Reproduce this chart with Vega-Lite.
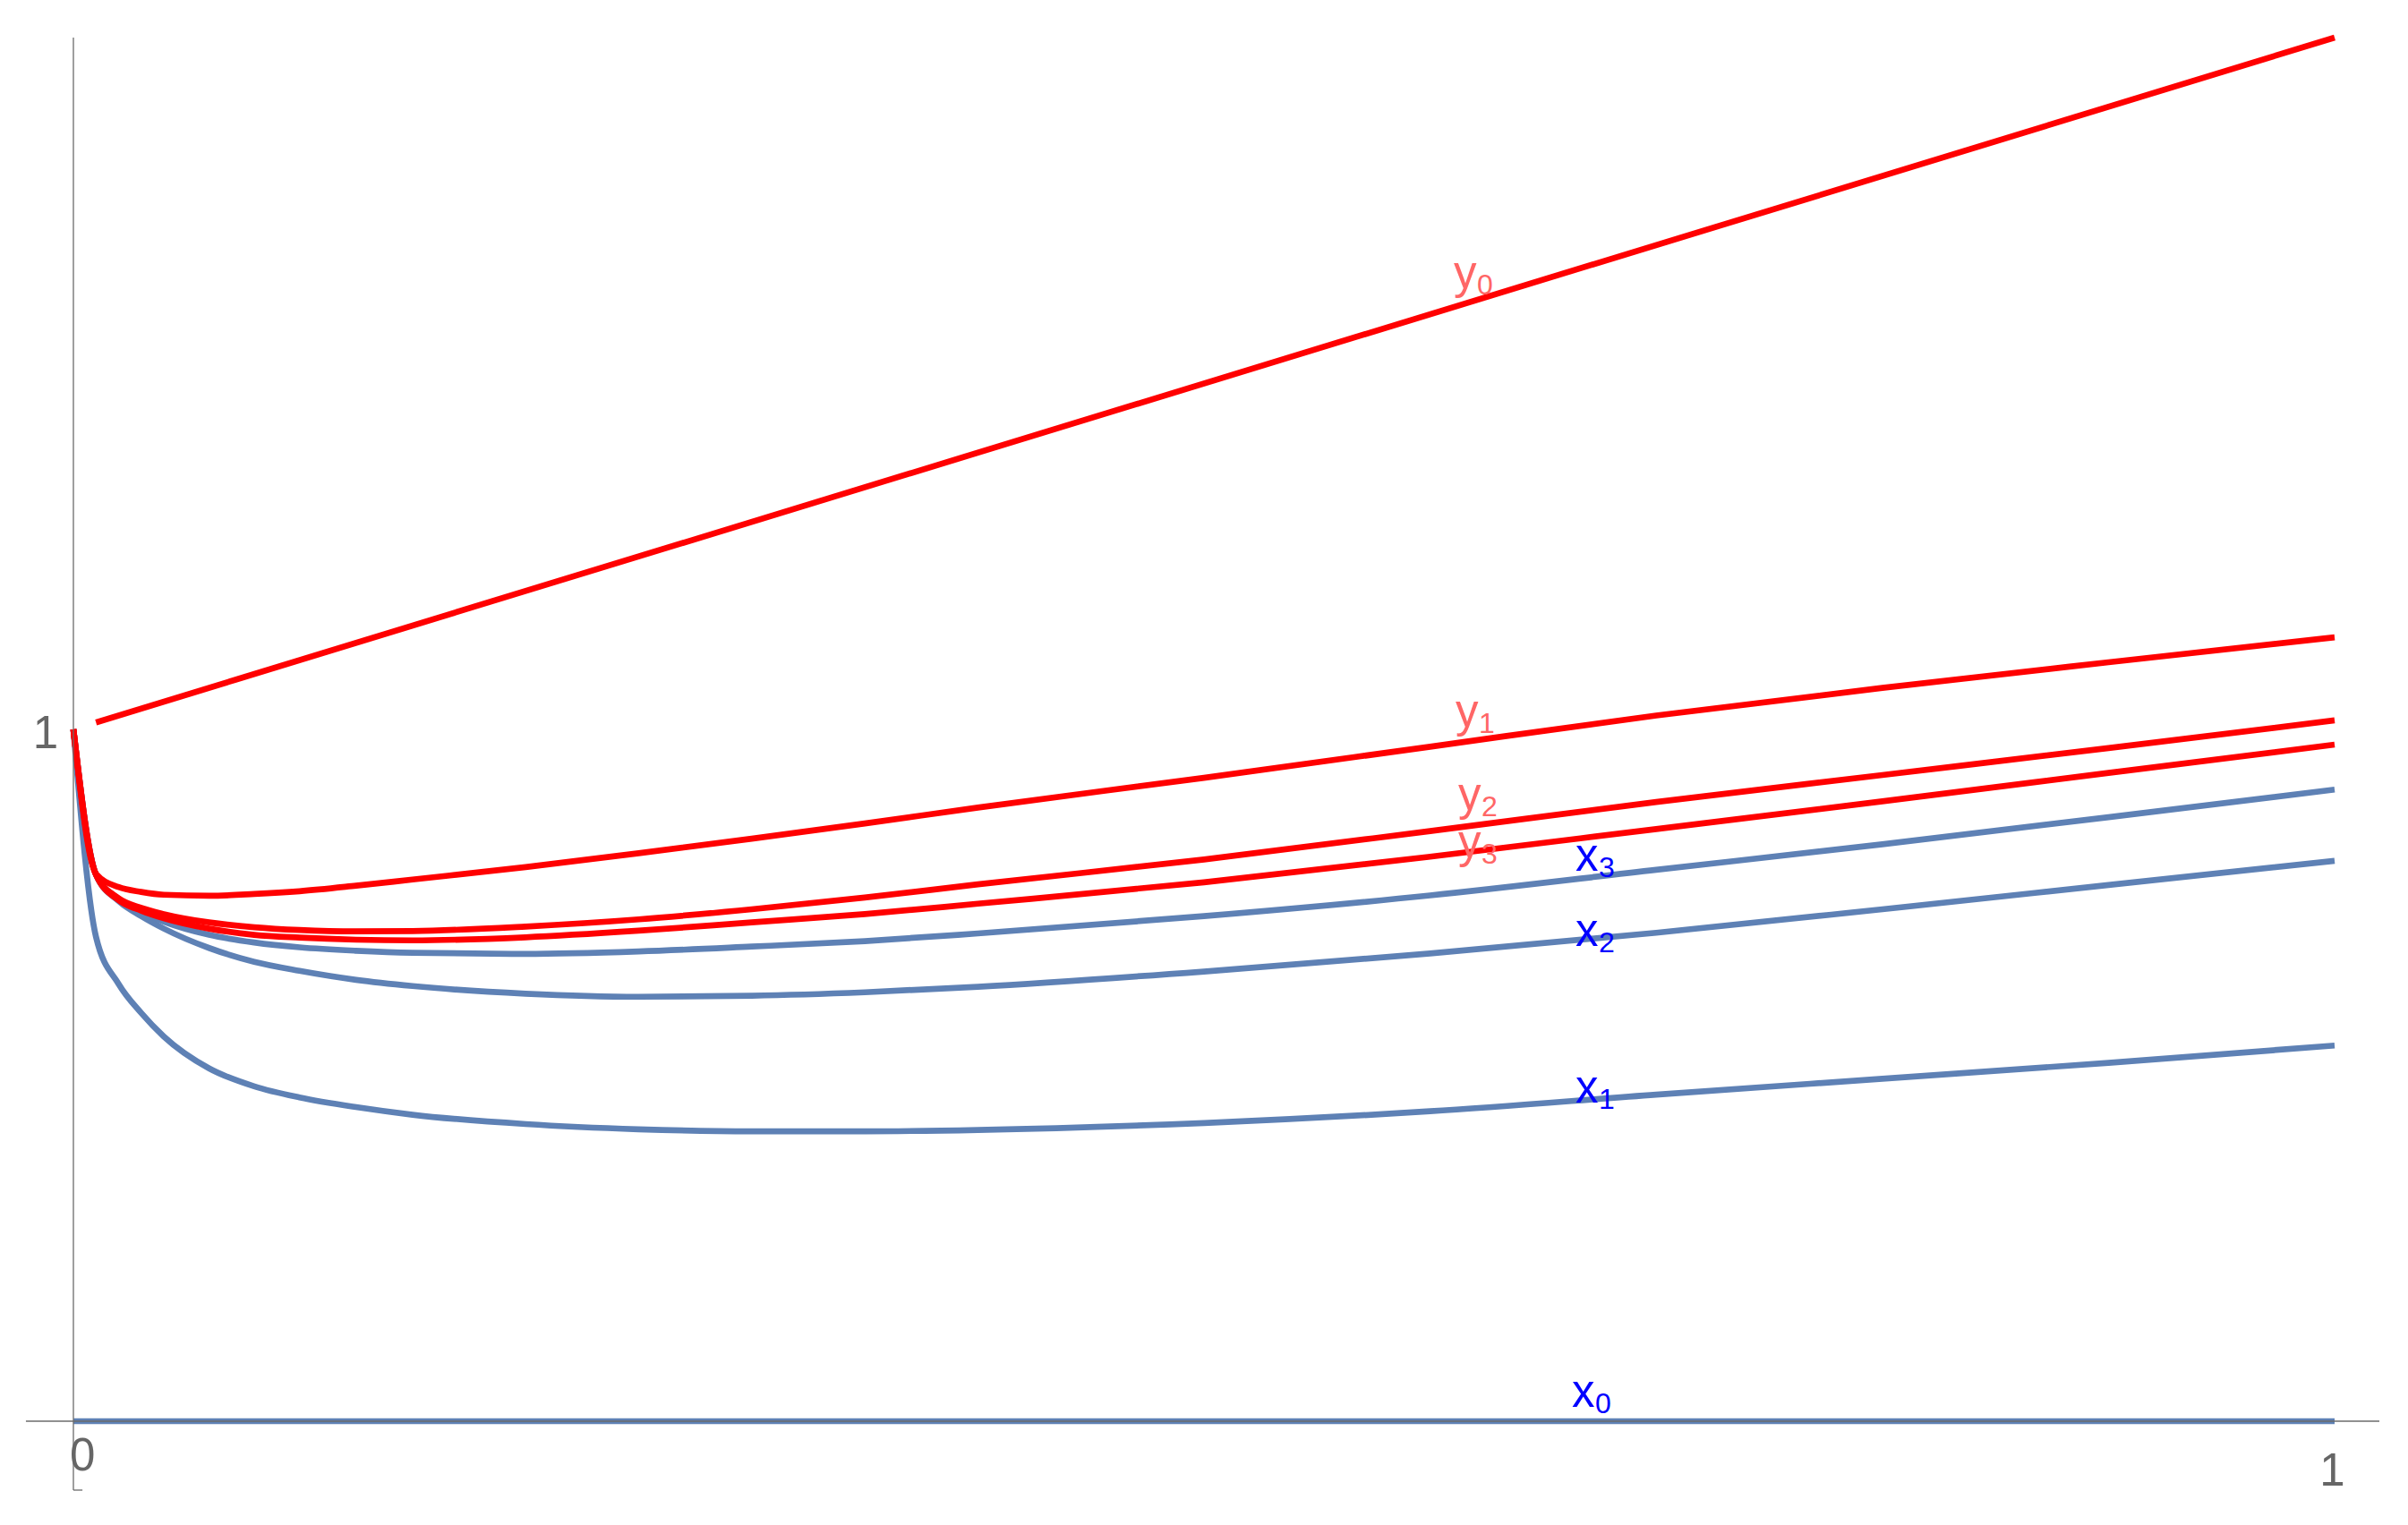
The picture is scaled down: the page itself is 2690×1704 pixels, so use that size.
{
  "$schema": "https://vega.github.io/schema/vega-lite/v6.json",
  "width": 2690,
  "height": 1704,
  "autosize": {"type": "none"},
  "padding": 0,
  "background": "white",
  "config": {"view": {"stroke": null}},
  "datasets": {
    "curves": [
      {"s":"x0","g":"x","x":0,"y":0},{"s":"x0","g":"x","x":1,"y":0},
      {"s":"x1","g":"x","x":0,"y":1},{"s":"x1","g":"x","x":0.01,"y":0.70},{"s":"x1","g":"x","x":0.02,"y":0.632},{"s":"x1","g":"x","x":0.03,"y":0.59},{"s":"x1","g":"x","x":0.04,"y":0.556},{"s":"x1","g":"x","x":0.06,"y":0.51},{"s":"x1","g":"x","x":0.08,"y":0.484},{"s":"x1","g":"x","x":0.1,"y":0.468},{"s":"x1","g":"x","x":0.125,"y":0.454},{"s":"x1","g":"x","x":0.15,"y":0.443},{"s":"x1","g":"x","x":0.2,"y":0.4295},{"s":"x1","g":"x","x":0.25,"y":0.422},{"s":"x1","g":"x","x":0.3,"y":0.419},{"s":"x1","g":"x","x":0.35,"y":0.419},{"s":"x1","g":"x","x":0.4,"y":0.421},{"s":"x1","g":"x","x":0.5,"y":0.431},{"s":"x1","g":"x","x":0.6,"y":0.448},{"s":"x1","g":"x","x":0.7,"y":0.472},{"s":"x1","g":"x","x":0.8,"y":0.495},{"s":"x1","g":"x","x":0.9,"y":0.518},{"s":"x1","g":"x","x":1,"y":0.543},
      {"s":"x2","g":"x","x":0,"y":1},{"s":"x2","g":"x","x":0.01,"y":0.79},{"s":"x2","g":"x","x":0.02,"y":0.752},{"s":"x2","g":"x","x":0.03,"y":0.73},{"s":"x2","g":"x","x":0.04,"y":0.712},{"s":"x2","g":"x","x":0.06,"y":0.684},{"s":"x2","g":"x","x":0.08,"y":0.664},{"s":"x2","g":"x","x":0.1,"y":0.651},{"s":"x2","g":"x","x":0.125,"y":0.638},{"s":"x2","g":"x","x":0.15,"y":0.629},{"s":"x2","g":"x","x":0.2,"y":0.618},{"s":"x2","g":"x","x":0.25,"y":0.6135},{"s":"x2","g":"x","x":0.3,"y":0.615},{"s":"x2","g":"x","x":0.35,"y":0.62},{"s":"x2","g":"x","x":0.4,"y":0.628},{"s":"x2","g":"x","x":0.5,"y":0.65},{"s":"x2","g":"x","x":0.6,"y":0.676},{"s":"x2","g":"x","x":0.7,"y":0.706},{"s":"x2","g":"x","x":0.8,"y":0.74},{"s":"x2","g":"x","x":0.9,"y":0.775},{"s":"x2","g":"x","x":1,"y":0.81},
      {"s":"x3","g":"x","x":0,"y":1},{"s":"x3","g":"x","x":0.01,"y":0.79},{"s":"x3","g":"x","x":0.02,"y":0.755},{"s":"x3","g":"x","x":0.03,"y":0.736},{"s":"x3","g":"x","x":0.04,"y":0.722},{"s":"x3","g":"x","x":0.06,"y":0.703},{"s":"x3","g":"x","x":0.08,"y":0.692},{"s":"x3","g":"x","x":0.1,"y":0.685},{"s":"x3","g":"x","x":0.125,"y":0.68},{"s":"x3","g":"x","x":0.15,"y":0.677},{"s":"x3","g":"x","x":0.2,"y":0.6755},{"s":"x3","g":"x","x":0.25,"y":0.679},{"s":"x3","g":"x","x":0.3,"y":0.686},{"s":"x3","g":"x","x":0.35,"y":0.694},{"s":"x3","g":"x","x":0.4,"y":0.705},{"s":"x3","g":"x","x":0.5,"y":0.73},{"s":"x3","g":"x","x":0.6,"y":0.76},{"s":"x3","g":"x","x":0.7,"y":0.797},{"s":"x3","g":"x","x":0.8,"y":0.834},{"s":"x3","g":"x","x":0.9,"y":0.873},{"s":"x3","g":"x","x":1,"y":0.913},
      {"s":"y0","g":"y","x":0.01,"y":1.01},{"s":"y0","g":"y","x":1,"y":2.0},
      {"s":"y1","g":"y","x":0,"y":1},{"s":"y1","g":"y","x":0.01,"y":0.791},{"s":"y1","g":"y","x":0.02,"y":0.772},{"s":"y1","g":"y","x":0.03,"y":0.765},{"s":"y1","g":"y","x":0.04,"y":0.761},{"s":"y1","g":"y","x":0.06,"y":0.7595},{"s":"y1","g":"y","x":0.08,"y":0.762},{"s":"y1","g":"y","x":0.1,"y":0.766},{"s":"y1","g":"y","x":0.125,"y":0.774},{"s":"y1","g":"y","x":0.15,"y":0.783},{"s":"y1","g":"y","x":0.2,"y":0.801},{"s":"y1","g":"y","x":0.25,"y":0.821},{"s":"y1","g":"y","x":0.3,"y":0.842},{"s":"y1","g":"y","x":0.35,"y":0.864},{"s":"y1","g":"y","x":0.4,"y":0.887},{"s":"y1","g":"y","x":0.5,"y":0.93},{"s":"y1","g":"y","x":0.6,"y":0.975},{"s":"y1","g":"y","x":0.7,"y":1.02},{"s":"y1","g":"y","x":0.8,"y":1.06},{"s":"y1","g":"y","x":0.9,"y":1.097},{"s":"y1","g":"y","x":1,"y":1.133},
      {"s":"y2","g":"y","x":0,"y":1},{"s":"y2","g":"y","x":0.01,"y":0.79},{"s":"y2","g":"y","x":0.02,"y":0.756},{"s":"y2","g":"y","x":0.03,"y":0.742},{"s":"y2","g":"y","x":0.04,"y":0.733},{"s":"y2","g":"y","x":0.06,"y":0.721},{"s":"y2","g":"y","x":0.08,"y":0.714},{"s":"y2","g":"y","x":0.1,"y":0.71},{"s":"y2","g":"y","x":0.125,"y":0.708},{"s":"y2","g":"y","x":0.15,"y":0.7085},{"s":"y2","g":"y","x":0.2,"y":0.715},{"s":"y2","g":"y","x":0.25,"y":0.7254},{"s":"y2","g":"y","x":0.3,"y":0.74},{"s":"y2","g":"y","x":0.35,"y":0.757},{"s":"y2","g":"y","x":0.4,"y":0.776},{"s":"y2","g":"y","x":0.5,"y":0.812},{"s":"y2","g":"y","x":0.6,"y":0.853},{"s":"y2","g":"y","x":0.7,"y":0.895},{"s":"y2","g":"y","x":0.8,"y":0.934},{"s":"y2","g":"y","x":0.9,"y":0.973},{"s":"y2","g":"y","x":1,"y":1.013},
      {"s":"y3","g":"y","x":0,"y":1},{"s":"y3","g":"y","x":0.01,"y":0.79},{"s":"y3","g":"y","x":0.02,"y":0.753},{"s":"y3","g":"y","x":0.03,"y":0.738},{"s":"y3","g":"y","x":0.04,"y":0.727},{"s":"y3","g":"y","x":0.06,"y":0.712},{"s":"y3","g":"y","x":0.08,"y":0.703},{"s":"y3","g":"y","x":0.1,"y":0.699},{"s":"y3","g":"y","x":0.125,"y":0.696},{"s":"y3","g":"y","x":0.15,"y":0.695},{"s":"y3","g":"y","x":0.2,"y":0.6995},{"s":"y3","g":"y","x":0.25,"y":0.709},{"s":"y3","g":"y","x":0.3,"y":0.721},{"s":"y3","g":"y","x":0.35,"y":0.733},{"s":"y3","g":"y","x":0.4,"y":0.748},{"s":"y3","g":"y","x":0.5,"y":0.779},{"s":"y3","g":"y","x":0.6,"y":0.816},{"s":"y3","g":"y","x":0.7,"y":0.856},{"s":"y3","g":"y","x":0.8,"y":0.896},{"s":"y3","g":"y","x":0.9,"y":0.937},{"s":"y3","g":"y","x":1,"y":0.978}
    ],
    "axes": [
      {"x":-0.021,"x2":1.0198,"y":0,"y2":0},
      {"x":0,"x2":0,"y":-0.0996,"y2":2.0},
      {"x":0,"x2":0.004,"y":-0.0996,"y2":-0.0996}
    ],
    "ticks": [
      {"text":"0","x":0.004,"y":-0.0712},
      {"text":"1","x":0.999,"y":-0.0931},
      {"text":"1","x":-0.0123,"y":0.9728}
    ],
    "labels": [
      {"base":"y","sub":"0","g":"y","x":0.6105,"y":1.6378},
      {"base":"y","sub":"1","g":"y","x":0.6112,"y":1.0039},
      {"base":"y","sub":"2","g":"y","x":0.6124,"y":0.8836},
      {"base":"y","sub":"3","g":"y","x":0.6124,"y":0.815},
      {"base":"x","sub":"0","g":"x","x":0.6627,"y":0.0211},
      {"base":"x","sub":"1","g":"x","x":0.6643,"y":0.4609},
      {"base":"x","sub":"2","g":"x","x":0.6643,"y":0.6873},
      {"base":"x","sub":"3","g":"x","x":0.6643,"y":0.7956}
    ]
  },
  "encoding": {
    "x": {"field": "x", "type": "quantitative", "scale": {"domain": [-0.03246, 1.03246], "nice": false, "zero": false}, "axis": null},
    "y": {"field": "y", "type": "quantitative", "scale": {"domain": [-0.15006, 2.0543], "nice": false, "zero": false}, "axis": null}
  },
  "layer": [
    {
      "data": {"name": "curves"},
      "transform": [{"filter": "datum.g == 'x'"}],
      "mark": {"type": "line", "color": "#5E81B5", "strokeWidth": 6.7, "interpolate": "monotone"},
      "encoding": {"detail": {"field": "s"}}
    },
    {
      "data": {"name": "curves"},
      "transform": [{"filter": "datum.g == 'y'"}],
      "mark": {"type": "line", "color": "#FF0000", "strokeWidth": 6.7, "interpolate": "monotone"},
      "encoding": {"detail": {"field": "s"}}
    },
    {
      "data": {"name": "axes"},
      "mark": {"type": "rule", "color": "#6b6b6b", "strokeWidth": 1.3},
      "encoding": {"x2": {"field": "x2"}, "y2": {"field": "y2"}}
    },
    {
      "data": {"name": "ticks"},
      "mark": {"type": "text", "font": "Liberation Sans", "fontSize": 51, "align": "center", "baseline": "alphabetic", "color": "#666666"},
      "encoding": {"text": {"field": "text"}}
    },
    {
      "data": {"name": "labels"},
      "mark": {"type": "text", "font": "Liberation Sans", "fontSize": 51, "align": "left", "baseline": "alphabetic"},
      "encoding": {
        "text": {"field": "base"},
        "color": {"field": "g", "type": "nominal", "scale": {"domain": ["x", "y"], "range": ["#0000FF", "#FF6666"]}, "legend": null}
      }
    },
    {
      "data": {"name": "labels"},
      "mark": {"type": "text", "font": "Liberation Sans", "fontSize": 32, "align": "left", "baseline": "alphabetic", "dx": 26, "dy": 7},
      "encoding": {
        "text": {"field": "sub"},
        "color": {"field": "g", "type": "nominal", "scale": {"domain": ["x", "y"], "range": ["#0000FF", "#FF6666"]}, "legend": null}
      }
    }
  ]
}
